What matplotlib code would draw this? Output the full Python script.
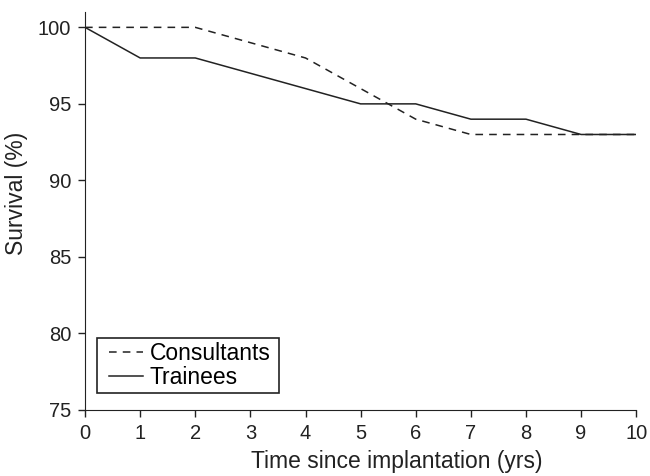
import matplotlib
matplotlib.use('Agg')
import matplotlib.pyplot as plt
from matplotlib.patches import Rectangle

plt.rcParams['font.family'] = ['Liberation Sans', 'DejaVu Sans']

# data
years = [0, 1, 2, 3, 4, 5, 6, 7, 8, 9, 10]
consultants = [100, 100, 100, 99, 98, 96, 94, 93, 93, 93, 93]
trainees = [100, 98, 98, 97, 96, 95, 95, 94, 94, 93, 93]

fig = plt.figure(figsize=(6.5, 4.76), dpi=100)
ax = fig.add_axes([0.1308, 0.1387, 0.848, 0.836])

ax.plot(years, consultants, color='#222222', lw=1.1, ls=(0, (5, 4)), label='Consultants')
ax.plot(years, trainees, color='#222222', lw=1.1, ls='-', label='Trainees')

ax.set_xlim(0, 10)
ax.set_ylim(75, 101)
ax.set_xticks(range(0, 11))
ax.set_yticks([75, 80, 85, 90, 95, 100])
ax.spines['top'].set_visible(False)
ax.spines['right'].set_visible(False)
for s in ['left', 'bottom']:
    ax.spines[s].set_color('#222222')
ax.tick_params(direction='out', length=5, width=1, labelsize=14.5, colors='#222222', pad=5)
ax.set_xlabel('Time since implantation (yrs)', fontsize=16.5, color='#222222')
ax.set_ylabel('Survival (%)', fontsize=16.5, color='#222222')
ax.xaxis.set_label_coords(0.565, -0.1)
ax.yaxis.set_label_coords(-0.103, 0.545)

# legend without frame, box drawn separately so the side padding is wider
leg = ax.legend(loc='lower left', bbox_to_anchor=(0.044, 0.052), fontsize=16.5, frameon=False,
                handlelength=1.45, borderpad=0, labelspacing=0.05, handletextpad=0.3,
                borderaxespad=0)
ax.add_patch(Rectangle((0.0218, 0.0427), 0.330, 0.138, transform=ax.transAxes,
                       fill=False, edgecolor='#222222', lw=1.2, zorder=5))

plt.savefig('out.png')
